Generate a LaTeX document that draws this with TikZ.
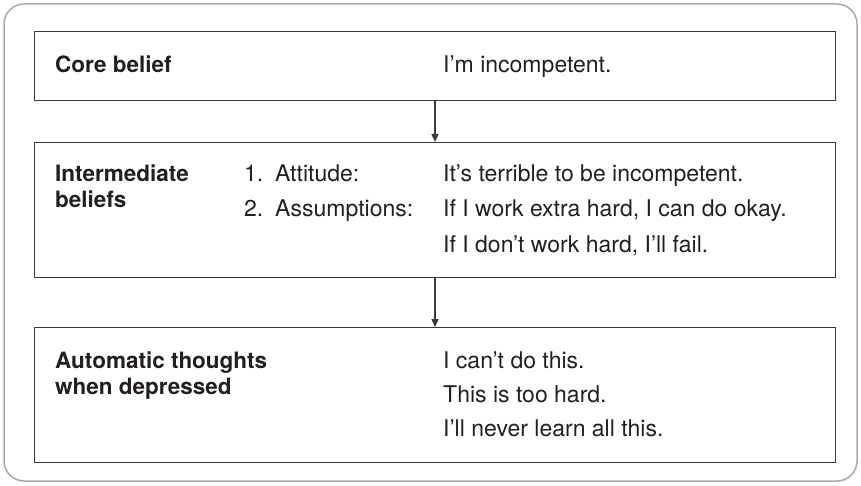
\documentclass[tikz,border=0pt]{standalone}
\usepackage{fontspec}
\setmainfont{TeX Gyre Heros}
\usetikzlibrary{arrows.meta}
\definecolor{txt}{HTML}{231F20}
\definecolor{frame}{HTML}{A7A9AC}
\definecolor{boxline}{HTML}{3A3A3A}
\begin{document}
\begin{tikzpicture}[x=1pt,y=-1pt,
  boxst/.style={draw=boxline,line width=1.4pt,anchor=north west,inner sep=0pt,minimum width=801pt},
  lbl/.style={anchor=base west,inner sep=0pt,text=txt,font=\fontsize{23}{26}\selectfont},
  blbl/.style={lbl,font=\fontsize{22.5}{26}\selectfont\bfseries},
  conn/.style={draw=boxline,line width=1.4pt,-{Triangle[length=8pt,width=7pt]}}]
\useasboundingbox (0,0) rectangle (861,486);
\draw[frame,line width=1.5pt,rounded corners=20pt] (4,4) rectangle (857,481);
% boxes
\node[boxst,minimum height=69pt] (b1) at (34,31) {};
\node[boxst,minimum height=135pt] (b2) at (34,142) {};
\node[boxst,minimum height=135pt] (b3) at (34,327) {};
\coordinate (a1s) at (435,100);
\coordinate (a2s) at (435,277);
\draw[conn] (a1s) -- (a1s |- b2.north);
\draw[conn] (a2s) -- (a2s |- b3.north);
% box 1
\node[blbl] (t1) at (55,73) {Core belief};
\node[lbl] (t2) at (443,73) {I’m incompetent.};
% box 2
\node[blbl] (t3) at (55,182) {Intermediate};
\node[blbl] (t4) at (55,208) {beliefs};
\node[lbl] (n1) at (244,182) {1.};
\node[lbl] (t5) at (275,182) {Attitude:};
\node[lbl] (n2) at (244,217) {2.};
\node[lbl] (t6) at (275,217) {Assumptions:};
\node[lbl] (t7) at (443,182) {It’s terrible to be incompetent.};
\node[lbl] (t8) at (443,217) {If I work extra hard, I can do okay.};
\node[lbl] (t9) at (443,252) {If I don’t work hard, I’ll fail.};
% box 3
\node[blbl] (t10) at (55,368) {Automatic thoughts};
\node[blbl] (t11) at (55,394) {when depressed};
\node[lbl] (t12) at (443,368) {I can’t do this.};
\node[lbl] (t13) at (443,402) {This is too hard.};
\node[lbl] (t14) at (443,436) {I’ll never learn all this.};
\end{tikzpicture}
\end{document}
